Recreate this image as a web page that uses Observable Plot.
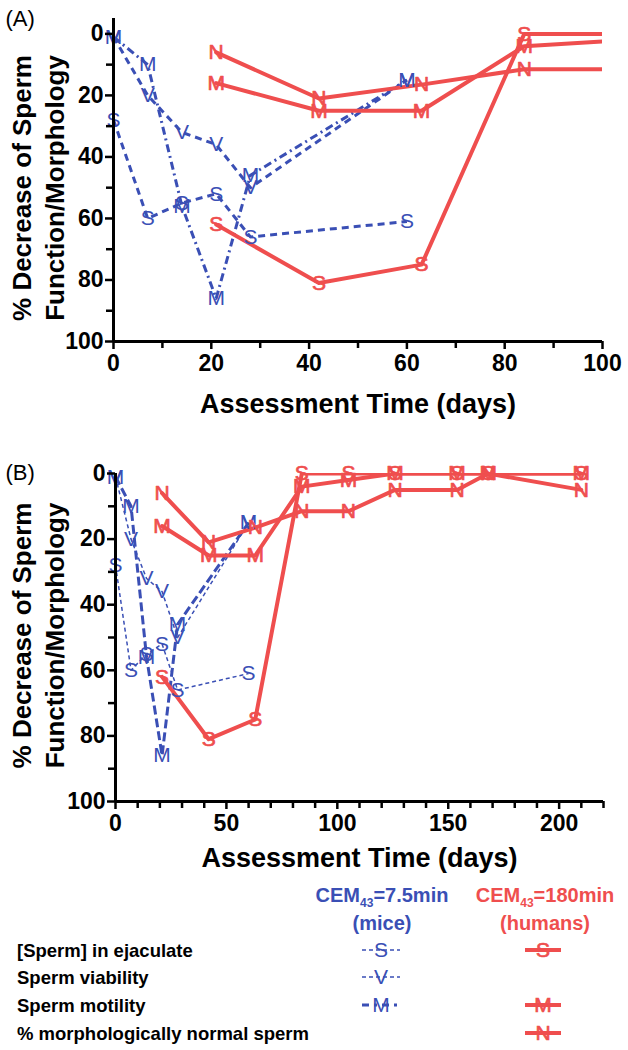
<!DOCTYPE html>
<html><head><meta charset="utf-8">
<script src="https://cdn.jsdelivr.net/npm/d3@7"></script>
<script src="https://cdn.jsdelivr.net/npm/@observablehq/plot@0.6"></script>
<style>
body{margin:0;background:#fff;}
#chart{width:628px;}
#chart svg{display:block;}
</style>
</head><body><div id="chart"></div>
<script>
const BLUE = "#3a4fb5";
const RED = "#ef4e4e";
const FONT = "'Liberation Sans', Arial, Helvetica, sans-serif";

// ---- data (days after exposure, % decrease) ----
const miceDays = [0, 7, 14, 21, 28, 60];
const miceSperm = [28, 60, 55, 52, 66, 61];
const miceViability = [1, 20, 32, 36, 50, 15];
const miceMotility = [1, 10, 56, 86, 46, 15];

const humanDays = [21, 42, 63, 84, 105, 126, 154, 168, 210];
const humanSperm = [62, 81, 75, 0, 0, 0, 0, 0, 0];
const humanMotility = [16, 25, 25, 4, 2, 0, 0, 0, 0];
const humanMorphology = [6, 21, 16.5, 11.5, 11.5, 5, 5, 0, 5];

const yTicks = [0, 20, 40, 60, 80, 100];
const yMinor = [10, 30, 50, 70, 90];
const xTicksA = [0, 20, 40, 60, 80, 100];
const xMinorA = [10, 30, 50, 70, 90];
const xTicksB = [0, 50, 100, 150, 200];
const xMinorB = [10, 20, 30, 40, 60, 70, 80, 90, 110, 120, 130, 140, 160, 170, 180, 190, 210, 220];

const yTitle1 = "% Decrease of Sperm";
const yTitle2 = "Function/Morphology";
const xTitle = "Assessment Time (days)";

const legendRows = ["[Sperm] in ejaculate", "Sperm viability", "Sperm motility", "% morphologically normal sperm"];
const miceSyms = ["S", "V", "M", null];
const humanSyms = ["S", null, "M", "N"];

// ---- build rows ----
const rows = (days, vals, sym) => days.map((d, i) => ({day: d, value: vals[i], sym}));
const mice = {S: rows(miceDays, miceSperm, "S"), V: rows(miceDays, miceViability, "V"), M: rows(miceDays, miceMotility, "M")};
const humans = {S: rows(humanDays, humanSperm, "S"), M: rows(humanDays, humanMotility, "M"), N: rows(humanDays, humanMorphology, "N")};

function panel(cfg) {
  const {tag, xMax, yMin, xTicks, xMinor, height, mt, mb, ml, mr, blue, redW, xTitleDy, tagDy, yTitleDy} = cfg;
  const inX = d => d.day <= xMax;
  const marks = [];
  for (const k of ["S", "V", "M"]) {
    marks.push(Plot.line(mice[k], {x: "day", y: "value", stroke: BLUE, strokeWidth: blue[k].w,
      strokeDasharray: blue[k].dash, strokeLinecap: "butt", clip: true}));
  }
  for (const k of ["S", "M", "N"]) {
    marks.push(Plot.line(humans[k], {x: "day", y: "value", stroke: RED, strokeWidth: redW, clip: true}));
  }
  for (const k of ["S", "V", "M"]) {
    marks.push(Plot.text(mice[k].filter(inX), {x: "day", y: "value", text: "sym", fill: BLUE,
      fontSize: 21, fontWeight: "normal", lineAnchor: "middle"}));
  }
  for (const k of ["S", "M", "N"]) {
    marks.push(Plot.text(humans[k].filter(inX), {x: "day", y: "value", text: "sym", fill: RED,
      stroke: RED, strokeWidth: 0.7, fontSize: 21, fontWeight: "normal", lineAnchor: "middle"}));
  }
  marks.push(
    Plot.axisY(yTicks, {tickSize: 8, strokeWidth: 2.5, fontSize: 23, tickPadding: 2, label: null}),
    Plot.axisY(yMinor, {tickSize: 7, strokeWidth: 2.5, tickFormat: () => "", label: null}),
    Plot.axisX(xTicks, {tickSize: 8, strokeWidth: 2.5, fontSize: 23, tickPadding: 5, label: null}),
    Plot.axisX(xMinor, {tickSize: 7, strokeWidth: 2.5, tickFormat: () => "", label: null}),
    Plot.ruleX([0], {strokeWidth: 3}),
    Plot.ruleY([100], {strokeWidth: 3}),
    Plot.text([xTitle], {frameAnchor: "bottom", dy: xTitleDy, fontSize: 27, lineAnchor: "middle"}),
    Plot.text([yTitle1], {frameAnchor: "left", rotate: -90, dx: -ml + 22, dy: yTitleDy, fontSize: 26, lineAnchor: "middle", textAnchor: "middle"}),
    Plot.text([yTitle2], {frameAnchor: "left", rotate: -90, dx: -ml + 55, dy: yTitleDy, fontSize: 26, lineAnchor: "middle", textAnchor: "middle"}),
    Plot.text([tag], {frameAnchor: "top-left", dx: -ml + 5, dy: tagDy, fontSize: 22, fontWeight: "normal", textAnchor: "start", lineAnchor: "middle"})
  );
  return Plot.plot({
    width: 628, height, marginTop: mt, marginBottom: mb, marginLeft: ml, marginRight: mr,
    x: {domain: [0, xMax]},
    y: {domain: [yMin, 100], reverse: true},
    style: {fontFamily: FONT, fontWeight: "bold", color: "#000", background: "#fff", overflow: "visible"},
    marks
  });
}

const chart = document.getElementById("chart");
chart.appendChild(panel({
  tag: "(A)", xMax: 100, yMin: -5, xTicks: xTicksA, xMinor: xMinorA,
  height: 440, mt: 18, mb: 99, ml: 113, mr: 26,
  blue: {S: {w: 3, dash: "7,5"}, V: {w: 3, dash: "7,5"}, M: {w: 3, dash: "8,4,2,4"}},
  redW: 4, xTitleDy: 63, tagDy: 0, yTitleDy: 8
}));
chart.appendChild(panel({
  tag: "(B)", xMax: 220, yMin: 0, xTicks: xTicksB, xMinor: xMinorB,
  height: 430, mt: 33, mb: 69, ml: 115, mr: 25,
  blue: {S: {w: 1.5, dash: "4,3"}, V: {w: 1.5, dash: "4,3"}, M: {w: 3, dash: "9,4"}},
  redW: 4, xTitleDy: 57, tagDy: -1, yTitleDy: -2
}));

// ---- legend ----
const lg = d3.create("svg").attr("width", 628).attr("height", 180)
  .attr("font-family", FONT).attr("font-weight", "bold");
function header(cx, color, num, sub) {
  const t = lg.append("text").attr("x", cx).attr("y", 32).attr("text-anchor", "middle")
    .attr("fill", color).attr("font-size", 20);
  t.append("tspan").text("CEM");
  t.append("tspan").attr("font-size", 12).attr("dy", 5).text("43");
  t.append("tspan").attr("dy", -5).text("=" + num);
  lg.append("text").attr("x", cx).attr("y", 60).attr("text-anchor", "middle")
    .attr("fill", color).attr("font-size", 20).text(sub);
}
header(382, BLUE, "7.5min", "(mice)");
header(545, RED, "180min", "(humans)");
const rowY = [80, 107, 135, 163];
legendRows.forEach((label, i) => {
  lg.append("text").attr("x", 17).attr("y", rowY[i] + 7).attr("font-size", 18.5).attr("fill", "#000").text(label);
  const ms = miceSyms[i];
  if (ms) {
    const dash = ms === "M" ? "7,5,3,5" : "4,3";
    const w = ms === "M" ? 3 : 1.5;
    lg.append("line").attr("x1", 362).attr("x2", 400).attr("y1", rowY[i]).attr("y2", rowY[i])
      .attr("stroke", BLUE).attr("stroke-width", w).attr("stroke-dasharray", dash);
    lg.append("text").attr("x", 381).attr("y", rowY[i]).attr("dy", "0.35em").attr("text-anchor", "middle")
      .attr("font-weight", "normal").attr("font-size", 21).attr("fill", BLUE).text(ms);
  }
  const hs = humanSyms[i];
  if (hs) {
    lg.append("line").attr("x1", 525).attr("x2", 561).attr("y1", rowY[i]).attr("y2", rowY[i])
      .attr("stroke", RED).attr("stroke-width", 4);
    lg.append("text").attr("x", 543).attr("y", rowY[i]).attr("dy", "0.35em").attr("text-anchor", "middle")
      .attr("font-weight", "normal").attr("font-size", 21).attr("fill", RED).attr("stroke", RED).attr("stroke-width", 0.7).text(hs);
  }
});
chart.appendChild(lg.node());
</script>
</body></html>
